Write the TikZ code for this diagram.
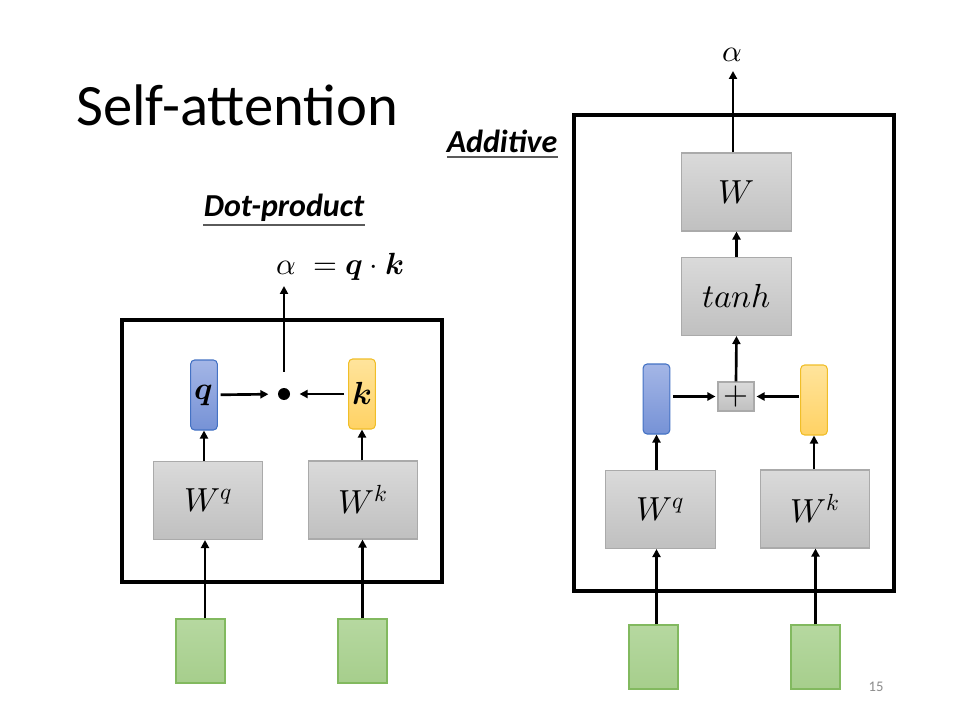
\documentclass[tikz,border=0pt]{standalone}
\usepackage{fontspec}
\usepackage{unicode-math}
\setmainfont{Carlito}
\setmathfont{Latin Modern Math}
\usetikzlibrary{arrows.meta}
\definecolor{gtop}{RGB}{218,218,218}
\definecolor{gbot}{RGB}{192,192,192}
\definecolor{gline}{RGB}{170,170,170}
\definecolor{btop}{RGB}{164,182,230}
\definecolor{bbot}{RGB}{118,146,214}
\definecolor{bline}{RGB}{68,114,196}
\definecolor{ytop}{RGB}{255,228,156}
\definecolor{ybot}{RGB}{255,210,100}
\definecolor{yline}{RGB}{240,190,40}
\definecolor{grtop}{RGB}{182,216,160}
\definecolor{grbot}{RGB}{166,206,140}
\definecolor{grline}{RGB}{130,185,95}
\definecolor{ulcol}{RGB}{90,90,90}
\begin{document}
\begin{tikzpicture}[x=0.75pt,y=-0.75pt,
  >={Triangle[length=6pt,width=6pt]},
  arr/.style={->, line width=2pt},
  frame/.style={draw, line width=3pt, inner sep=0pt},
  wbox/.style={draw=gline, line width=0.8pt, top color=gtop, bottom color=gbot,
    minimum width=82pt, minimum height=58.5pt, inner sep=0pt,
    font=\fontsize{25}{29}\selectfont},
  pbox/.style={draw=gline, line width=0.8pt, top color=gtop, bottom color=gbot,
    minimum width=27pt, minimum height=21.75pt, inner sep=0pt,
    font=\fontsize{24}{28}\selectfont},
  qvec/.style={draw=bline, line width=0.8pt, rounded corners=3pt, top color=btop, bottom color=bbot,
    minimum width=20pt, minimum height=52.5pt, inner sep=0pt,
    font=\fontsize{24}{28}\selectfont},
  kvec/.style={draw=yline, line width=0.8pt, rounded corners=3pt, top color=ytop, bottom color=ybot,
    minimum width=20pt, minimum height=52.5pt, inner sep=0pt,
    font=\fontsize{24}{28}\selectfont},
  inbox/.style={draw=grline, line width=0.8pt, top color=grtop, bottom color=grbot,
    minimum width=36.75pt, minimum height=48pt, inner sep=0pt},
  heading/.style={font=\fontsize{24}{28}\selectfont\bfseries\itshape, inner sep=0pt},
  mathlab/.style={font=\fontsize{23}{27}\selectfont, inner sep=0pt},
  uline/.style={draw=ulcol, line width=0.8pt}
]
\useasboundingbox[fill=white] (0,0) rectangle (960,720);

% title
\node[anchor=base west, inner sep=0pt, font=\fontsize{44}{50}\selectfont] (title) at (76,126) {Self-attention};
\node[anchor=base, inner sep=0pt, font=\fontsize{11}{13}\selectfont, text={rgb,255:red,140;green,140;blue,140}] (pnum) at (876,691) {15};

% ---------------- Dot-product ----------------
\node[heading] (dph) at (284,208) {Dot-product};
\draw[uline] (203,225) -- (365,225);
\node[frame, minimum width=240pt, minimum height=196.5pt] (lframe) at (282,451) {};
\node[mathlab] (leq) at (340,267) {$\alpha\;=\symbfit{q}\cdot\symbfit{k}$};
\coordinate (lout) at (284,286);
\node[qvec] (q) at (204,395) {$\symbfit{q}$};
\node[kvec] (k) at (362,394) {$\symbfit{k}$};
\node[circle, fill, minimum size=9pt, inner sep=0pt] (dot) at (284,394) {};
\node[wbox] (wq1) at (208,500.5) {$W^q$};
\node[wbox] (wk1) at (363,500) {$W^k$};
\node[inbox] (x1) at (200.5,651) {};
\node[inbox] (x2) at (362.5,651) {};

\draw[arr, shorten <=2pt, shorten >=7pt] (q) -- (dot);
\draw[arr, shorten <=3pt, shorten >=7pt] (k) -- (dot);
\draw[arr] ([yshift=12pt]dot.north) -- (lout);
\draw[arr] (wq1.north -| q) -- (q.south);
\draw[arr] (wk1.north -| k) -- (k.south);
\draw[arr] (x1.north -| wq1.south) ++(-3,0) coordinate (a1) -- (a1 |- wq1.south);
\draw[arr] (x2.north) -- (x2.north |- wk1.south);

% ---------------- Additive ----------------
\node[heading] (adh) at (502,141) {Additive};
\draw[uline] (447,157) -- (558,157);
\node[frame, minimum width=240pt, minimum height=357pt] (rframe) at (734,353) {};
\node[mathlab] (ralpha) at (732,55) {$\alpha$};
\coordinate (rout) at (733,71);
\node[wbox] (w) at (736.5,192) {$W$};
\node[wbox] (th) at (736.5,296.5) {$tanh$};
\node[pbox] (plus) at (736,396.5) {$+$};
\node[qvec] (bq) at (656.5,399) {};
\node[kvec] (yk) at (814,400) {};
\node[wbox] (wq2) at (660.5,509.5) {$W^q$};
\node[wbox] (wk2) at (815,509) {$W^k$};
\node[inbox] (x3) at (653.5,657) {};
\node[inbox] (x4) at (815.5,657) {};

\draw[arr] (w.north -| rout) -- (rout);
\draw[arr] (th.north) -- (w.south);
\draw[arr] (plus.north) -- (th.south);
\draw[arr, shorten <=2pt, shorten >=1.5pt] (bq.east |- plus) -- (plus.west);
\draw[arr, shorten <=1pt, shorten >=1.5pt] (yk.west |- plus) -- (plus.east);
\draw[arr] (wq2.north -| bq) -- (bq.south);
\draw[arr] (wk2.north -| yk) -- (yk.south);
\draw[arr] (x3.north) ++(3,0) coordinate (a3) -- (a3 |- wq2.south);
\draw[arr] (x4.north) -- (x4.north |- wk2.south);
\end{tikzpicture}
\end{document}
